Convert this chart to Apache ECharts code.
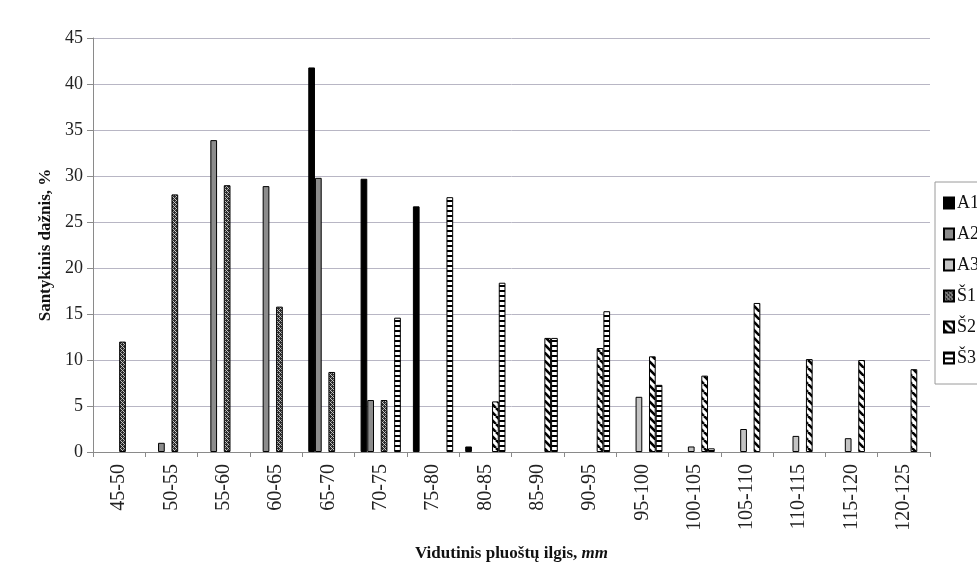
<!DOCTYPE html>
<html><head><meta charset="utf-8">
<script src="https://cdn.jsdelivr.net/npm/echarts@6/dist/echarts.min.js"></script>
<style>html,body{margin:0;padding:0;background:#fff}#c{width:977px;height:568px}</style>
</head><body><div id="c"></div>
<script>
const categories = ['45-50','50-55','55-60','60-65','65-70','70-75','75-80','80-85','85-90','90-95','95-100','100-105','105-110','110-115','115-120','120-125'];
const seriesNames = ['A1','A2','A3','Š1','Š2','Š3'];
const A1 = [null,null,null,null,41.8,29.7,26.7,0.6,null,null,null,null,null,null,null,null];
const A2 = [null,1.0,33.9,28.9,29.8,5.65,null,null,null,null,null,null,null,null,null,null];
const A3 = [null,null,null,null,null,null,null,null,null,null,6.0,0.6,2.5,1.75,1.5,null];
const S1 = [12.0,28.0,29.0,15.8,8.7,5.65,null,null,null,null,null,null,null,null,null,null];
const S2 = [null,null,null,null,null,null,null,5.5,12.4,11.3,10.4,8.3,16.2,10.1,10.0,9.0];
const S3 = [null,null,null,null,null,14.6,27.7,18.4,12.4,15.3,7.3,0.4,null,null,null,null];
const yTicks = [0,5,10,15,20,25,30,35,40,45];

function makePattern(type){
  const c = document.createElement('canvas');
  const x = c.getContext('2d');
  if(type==='cross'){
    c.width=4;c.height=4;
    x.fillStyle='#2b2b2b';x.fillRect(0,0,4,4);
    x.fillStyle='#c8c8c8';
    x.fillRect(0,0,1,1);x.fillRect(2,2,1,1);x.fillRect(1,1,1,1);x.fillRect(3,3,1,1);
    x.fillStyle='#9a9a9a';x.fillRect(3,1,1,1);x.fillRect(1,3,1,1);
  } else if(type==='diag'){
    c.width=8;c.height=8;
    x.fillStyle='#fff';x.fillRect(0,0,8,8);
    x.strokeStyle='#000';x.lineWidth=2.6;
    for(let k=-8;k<=8;k+=8){x.beginPath();x.moveTo(k,0);x.lineTo(k+8,8);x.stroke();}
  } else {
    c.width=6;c.height=5;
    x.fillStyle='#fff';x.fillRect(0,0,6,5);
    x.fillStyle='#000';x.fillRect(0,0,6,2);
  }
  return {image:c, repeat:'repeat'};
}

const colors = ['#000000','#8c8c8c','#c4c4c4',makePattern('cross'),makePattern('diag'),makePattern('horiz')];
const dataSets = [A1,A2,A3,S1,S2,S3];

const chart = echarts.init(document.getElementById('c'));
const serif = 'Liberation Serif, Times New Roman, serif';
chart.setOption({
  animation:false,
  backgroundColor:'#fff',
  grid:{left:93,right:47,top:38,bottom:116,containLabel:false},
  legend:{
    orient:'vertical',left:935,top:182,
    padding:[12,4,17,8],itemGap:13,itemWidth:10,itemHeight:11,
    backgroundColor:'#fff',borderColor:'#9a9a9a',borderWidth:1,
    textStyle:{fontFamily:serif,fontSize:18,color:'#111',padding:[0,0,0,-2]},
    icon:'rect',
    data:seriesNames
  },
  xAxis:{
    type:'category',data:categories,
    axisLine:{lineStyle:{color:'#8a8a8a',width:1}},
    axisTick:{show:true,length:5,lineStyle:{color:'#8a8a8a'}},
    axisLabel:{rotate:90,fontFamily:serif,fontSize:20,color:'#222',margin:12,interval:0},
    name:'{b|Vidutinis pluoštų ilgis, }{i|mm}',
    nameLocation:'middle',nameGap:93,
    nameTextStyle:{rich:{
      b:{fontFamily:serif,fontSize:17,fontWeight:'bold',color:'#111'},
      i:{fontFamily:serif,fontSize:17,fontWeight:'bold',fontStyle:'italic',color:'#111'}
    }}
  },
  yAxis:{
    type:'value',min:0,max:45,interval:5,
    axisLine:{show:true,lineStyle:{color:'#8a8a8a'}},
    axisTick:{show:true,length:6,lineStyle:{color:'#8a8a8a'}},
    axisLabel:{fontFamily:serif,fontSize:18,color:'#222',margin:10,
      formatter:v=>yTicks.includes(v)?String(v):''},
    splitLine:{lineStyle:{color:'#b8b6c4',width:1}},
    name:'Santykinis dažnis, %',nameLocation:'middle',nameGap:37,
    nameTextStyle:{fontFamily:serif,fontSize:17,fontWeight:'bold',color:'#111'}
  },
  series:seriesNames.map((n,i)=>({
    name:n,type:'bar',data:dataSets[i],
    barGap:'0%',barCategoryGap:'23%',
    itemStyle:{color:colors[i],borderColor:'#000',borderWidth:1}
  }))
});
</script></body></html>
